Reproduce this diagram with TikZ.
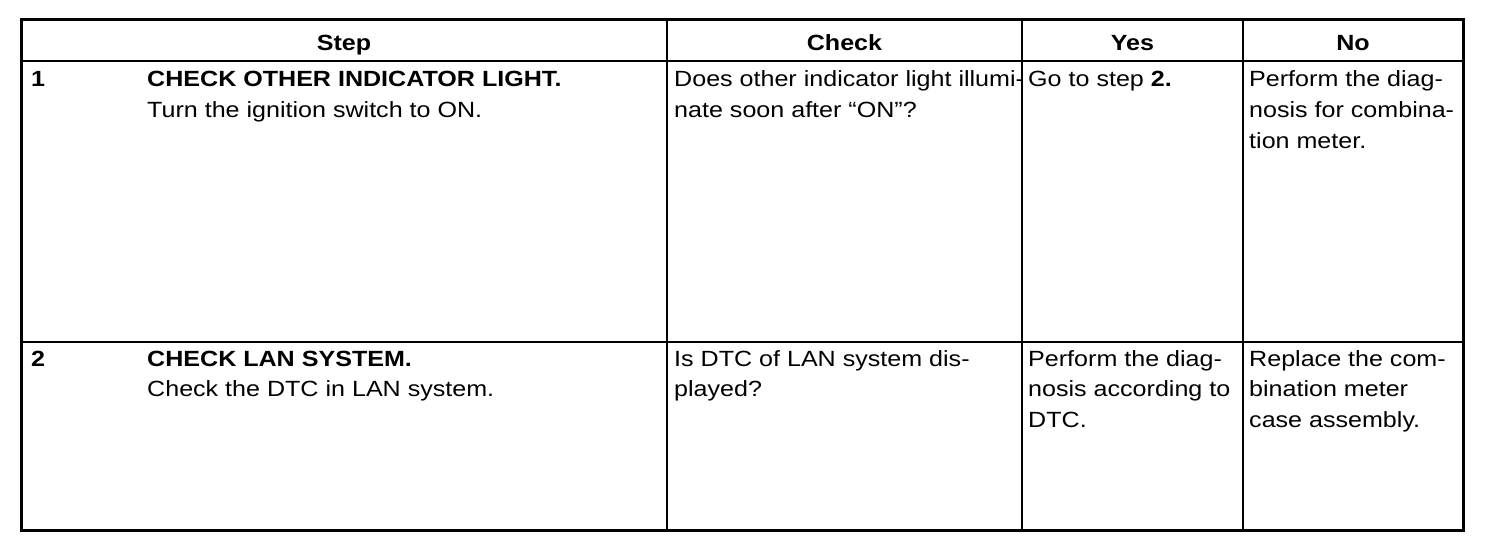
\documentclass[tikz,border=0pt]{standalone}
\usepackage{fontspec}
\setmainfont{Liberation Sans}[FakeStretch=1.14]
\begin{document}
\begin{tikzpicture}[x=1pt,y=-1pt,
  cell/.style={anchor=base west,inner sep=0pt,font=\fontsize{22}{30.8}\selectfont},
  head/.style={anchor=base,inner sep=0pt,font=\fontsize{22}{30.8}\selectfont\bfseries},
  outer/.style={line width=3pt},
  inner/.style={line width=2pt}]
\useasboundingbox (0,0) rectangle (1504,556);
\newcommand{\lines}[1]{\begin{tabular}[t]{@{}l@{}}#1\end{tabular}}
% grid
\coordinate (tl) at (21.5,19.5);
\coordinate (br) at (1463.5,530.5);
\draw[inner] (21.5,61) -- (1463.5,61);
\draw[inner] (21.5,342) -- (1463.5,342);
\draw[inner] (667,19.5) -- (667,530.5);
\draw[inner] (1022,19.5) -- (1022,530.5);
\draw[inner] (1243,19.5) -- (1243,530.5);
\draw[outer] (tl) rectangle (br);
% header
\node[head] (hstep) at (344,50.5) {Step};
\node[head] (hcheck) at (844.5,50.5) {Check};
\node[head] (hyes) at (1132.5,50.5) {Yes};
\node[head] (hno) at (1353,50.5) {No};
% row 1
\node[cell] (n1) at (31,86.5) {\textbf{1}};
\node[cell] (s1) at (147,86.5) {\lines{\textbf{CHECK OTHER INDICATOR LIGHT.}\\Turn the ignition switch to ON.}};
\node[cell] (c1) at (674,86.5) {\lines{Does other indicator light illumi-\\nate soon after “ON”?}};
\node[cell] (y1) at (1028,86.5) {\lines{Go to step \textbf{2.}}};
\node[cell] (x1) at (1249,86.5) {\lines{Perform the diag-\\nosis for combina-\\tion meter.}};
% row 2
\node[cell] (n2) at (31,366) {\textbf{2}};
\node[cell] (s2) at (147,366) {\lines{\textbf{CHECK LAN SYSTEM.}\\Check the DTC in LAN system.}};
\node[cell] (c2) at (674,366) {\lines{Is DTC of LAN system dis-\\played?}};
\node[cell] (y2) at (1028,366) {\lines{Perform the diag-\\nosis according to\\DTC.}};
\node[cell] (x2) at (1249,366) {\lines{Replace the com-\\bination meter\\case assembly.}};
\end{tikzpicture}
\end{document}
